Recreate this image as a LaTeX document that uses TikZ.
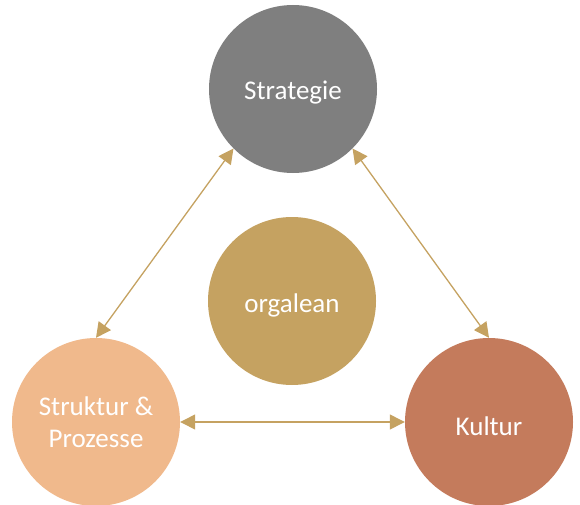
\documentclass[tikz,border=0pt]{standalone}
\usepackage{fontspec}
\setmainfont{Carlito}
\usetikzlibrary{arrows.meta}
\definecolor{cgray}{RGB}{127,127,127}
\definecolor{cgold}{RGB}{197,162,97}
\definecolor{cpeach}{RGB}{240,185,140}
\definecolor{cterra}{RGB}{196,123,92}
\newcommand{\lowr}[1]{\raisebox{-4pt}[\height][\depth]{#1}}
\tikzset{
  bubble/.style={circle, minimum size=168pt, inner sep=0pt, text=white,
    font=\fontsize{27}{32}\selectfont, align=center},
  link/.style={draw=cgold, line width=1.3pt,
    {Triangle[length=15pt,width=15pt]}-{Triangle[length=15pt,width=15pt]}}
}
\begin{document}
\begin{tikzpicture}[x=1pt,y=-1pt]
\useasboundingbox (0,0) rectangle (580,505);
\node[bubble, fill=cgray] (strat) at (293,89) {\lowr{Strategie}};
\node[bubble, fill=cgold] (orga) at (292,301) {\lowr{orgalean}};
\node[bubble, fill=cpeach] (struk) at (96,422) {Struktur \&\\Prozesse};
\node[bubble, fill=cterra] (kult) at (489,422) {\lowr{Kultur}};
\draw[link] (strat.225) -- (struk.north);
\draw[link] (strat.315) -- (kult.north);
\draw[link] (struk.east) -- (kult.west);
\end{tikzpicture}
\end{document}
